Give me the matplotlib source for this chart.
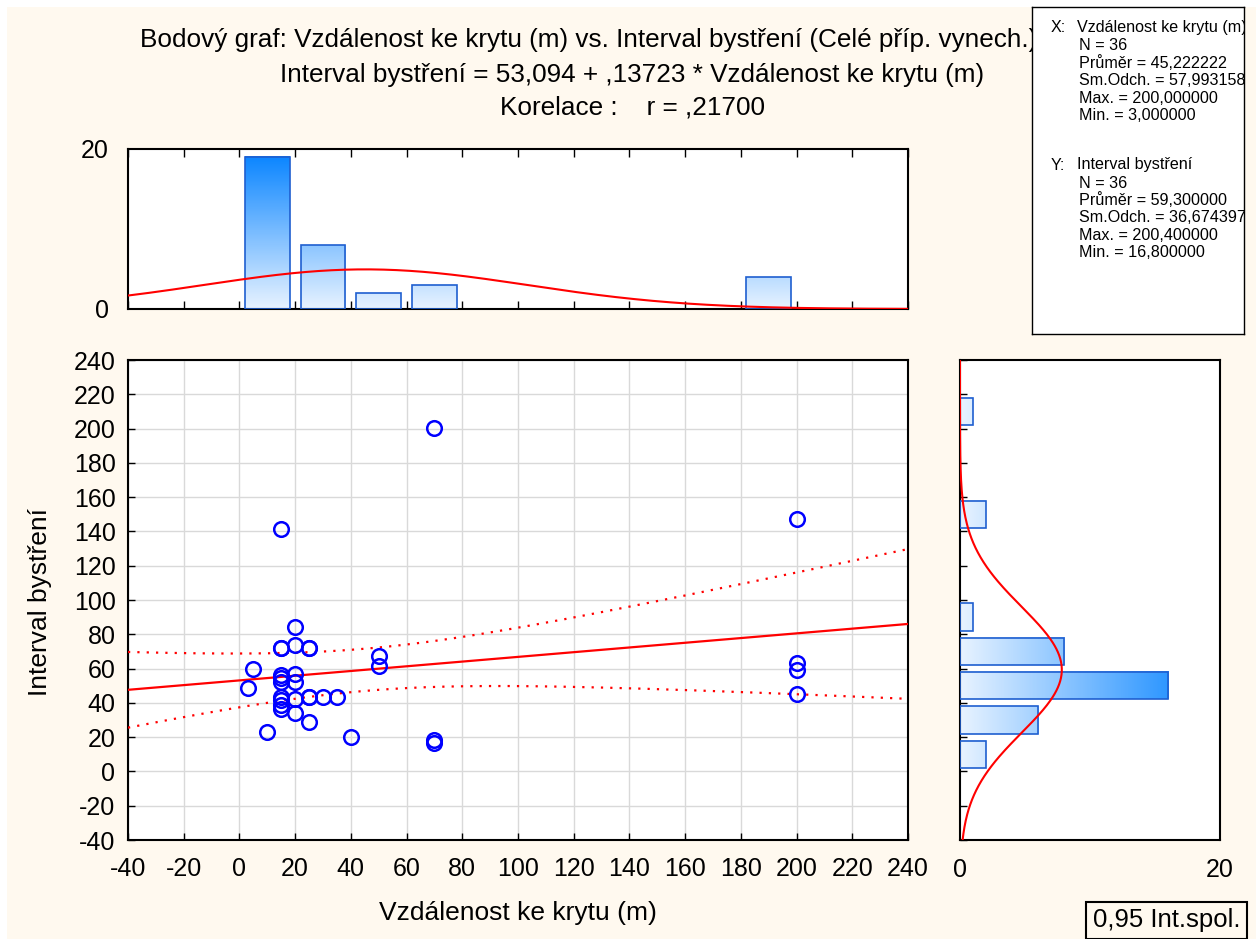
import numpy as np
import matplotlib
matplotlib.use("Agg")
import matplotlib.pyplot as plt
from matplotlib.colors import LinearSegmentedColormap
from matplotlib.patches import Rectangle

plt.rcParams['font.family'] = ['Liberation Sans', 'DejaVu Sans']
plt.rcParams['axes.unicode_minus'] = False

# ---- observations ---------------------------------------------------------
distance = [20, 15, 15, 20, 25, 25, 50, 50, 5, 15, 15, 15, 20, 20, 3,
            15, 15, 15, 15, 20, 25, 25, 30, 35, 20, 25, 10, 40, 15,
            70, 200, 200, 200, 200, 70, 70]
interval = [84.4, 72.2, 72.2, 73.8, 71.8, 71.8, 67.3, 61.7, 60.0, 56.3, 54.3, 52.3,
            56.8, 52.3, 48.5, 43.6, 41.7, 38.8, 36.2, 42.3, 43.6, 43.6, 43.2, 43.6,
            33.9, 28.7, 23.2, 20.3, 141.4, 200.4, 147.3, 63.1, 59.2, 45.0, 18.3, 16.8]

x_label = "Vzdálenost ke krytu (m)"
y_label = "Interval bystření"
plot_title = "Bodový graf: Vzdálenost ke krytu (m) vs. Interval bystření (Celé příp. vynech.)"

# regression / descriptive statistics as reported
intercept = 53.094
slope = 0.13723
r_value = 0.21700
n_obs = 36
x_stats = {"mean": 45.222222, "sd": 57.993158, "max": 200.0, "min": 3.0}
y_stats = {"mean": 59.3, "sd": 36.674397, "max": 200.4, "min": 16.8}
ci_label = "0,95 Int.spol."
t_crit = 2.0322          # Student t (0.975; 34 df)

bin_width = 20
axis_ticks = np.arange(-40, 241, 20)
hist_ticks = [0, 20]

# ---- styling --------------------------------------------------------------
BG = "#fff9ef"
RED = "#ff0000"
BLUE = "#0000ff"
BAR_EDGE = "#1f5fd0"
bar_cmap = LinearSegmentedColormap.from_list("bar", ["#e8f3ff", "#0080ff"])


def cz(v, fmt):
    s = format(v, fmt).replace(".", ",")
    if s.startswith("0,"):
        s = s[1:]
    return s


def normpdf(v, mu, sd):
    return np.exp(-0.5 * ((v - mu) / sd) ** 2) / (sd * np.sqrt(2 * np.pi))


def bin_counts(values):
    v = np.asarray(values, dtype=float)
    idx = (np.ceil(v / bin_width) - 1).astype(int)
    uniq = np.unique(idx)
    counts = np.array([np.sum(idx == i) for i in uniq])
    return uniq * bin_width, counts


W, H = 1256, 939
fig = plt.figure(figsize=(W / 100, H / 100), dpi=100, facecolor=BG)


def px_axes(left, top, right, bottom):
    return fig.add_axes([left / W, 1 - bottom / H, (right - left) / W, (bottom - top) / H])


# thin white margin on the top and left edge
fig.patches.append(Rectangle((0, 1 - 7 / H), 1, 7 / H, transform=fig.transFigure,
                             facecolor="white", edgecolor="none", zorder=-1))
fig.patches.append(Rectangle((0, 0), 7 / W, 1, transform=fig.transFigure,
                             facecolor="white", edgecolor="none", zorder=-1))

tick_fs = 18
label_fs = 19

# ---- main scatter ---------------------------------------------------------
ax = px_axes(128, 360, 908, 840)
ax.set_xlim(-40, 240)
ax.set_ylim(-40, 240)
ax.set_xticks(axis_ticks)
ax.set_yticks(axis_ticks)
ax.grid(True, color="#d9d9d9", lw=1.0)
ax.set_axisbelow(True)
ax.tick_params(direction="in", length=5, labelsize=tick_fs, width=1)
ax.tick_params(axis="y", pad=9)
ax.tick_params(axis="x", pad=12)
for s in ax.spines.values():
    s.set_linewidth(1.5)

xs = np.linspace(-40, 240, 300)
yhat = intercept + slope * xs
s_res = y_stats["sd"] * np.sqrt((1 - r_value ** 2) * (n_obs - 1) / (n_obs - 2))
sxx = (n_obs - 1) * x_stats["sd"] ** 2
half = t_crit * s_res * np.sqrt(1 / n_obs + (xs - x_stats["mean"]) ** 2 / sxx)
ax.plot(xs, yhat, color=RED, lw=1.6, zorder=3)
ax.plot(xs, yhat + half, color=RED, lw=1.6, ls=(0, (1, 3.2)), zorder=3)
ax.plot(xs, yhat - half, color=RED, lw=1.6, ls=(0, (1, 3.2)), zorder=3)
ax.plot(distance, interval, ls="none", marker="o", ms=10.5, mfc="none", mec=BLUE,
        mew=1.8, zorder=4)

fig.text(518 / W, 1 - 913 / H, x_label, ha="center", va="center", fontsize=label_fs)
fig.text(40 / W, 1 - 602 / H, y_label, ha="center", va="center", rotation=90,
         fontsize=label_fs)


def gradient_bar(axh, x0, x1, y0, y1, vertical):
    if vertical:
        data = np.linspace(y0, y1, 256).reshape(-1, 1)
    else:
        data = np.linspace(x0, x1, 256).reshape(1, -1)
    axh.imshow(data, extent=(x0, x1, y0, y1), origin="lower", aspect="auto",
               cmap=bar_cmap, vmin=0, vmax=20, interpolation="bilinear", zorder=2)
    axh.add_patch(Rectangle((x0, y0), x1 - x0, y1 - y0, facecolor="none",
                            edgecolor=BAR_EDGE, lw=1.2, zorder=3))


# ---- top histogram (distance) ---------------------------------------------
axt = px_axes(128, 149, 908, 309)
lows, counts = bin_counts(distance)
for lo, c in zip(lows, counts):
    gradient_bar(axt, lo + 2, lo + bin_width - 2, 0, c, vertical=True)
axt.plot(xs, n_obs * bin_width * normpdf(xs, x_stats["mean"], x_stats["sd"]),
         color=RED, lw=1.5, zorder=4)
axt.set_xlim(-40, 240)
axt.set_ylim(0, 20)
axt.set_xticks(axis_ticks)
axt.set_yticks(hist_ticks)
axt.tick_params(axis="x", direction="in", length=6, top=True, labelbottom=False, width=1)
axt.tick_params(axis="y", direction="in", length=0, labelsize=tick_fs, pad=14)
axt.set_facecolor("white")
for s in axt.spines.values():
    s.set_linewidth(1.5)

# ---- right histogram (interval) -------------------------------------------
axr = px_axes(960, 360, 1220, 840)
lows, counts = bin_counts(interval)
for lo, c in zip(lows, counts):
    gradient_bar(axr, 0, c, lo + 2, lo + bin_width - 2, vertical=False)
ys = np.linspace(-40, 240, 300)
axr.plot(n_obs * bin_width * normpdf(ys, y_stats["mean"], y_stats["sd"]), ys,
         color=RED, lw=1.5, zorder=4)
axr.set_xlim(0, 20)
axr.set_ylim(-40, 240)
axr.set_yticks(axis_ticks)
axr.set_xticks(hist_ticks)
axr.tick_params(axis="y", direction="in", length=5, labelleft=False, width=1)
axr.tick_params(axis="x", direction="in", length=0, labelsize=tick_fs, pad=13)
axr.set_facecolor("white")
for s in axr.spines.values():
    s.set_linewidth(1.5)

# ---- titles ---------------------------------------------------------------
title_fs = 18.8
fig.text(140 / W, 1 - 40 / H, plot_title, ha="left", va="center", fontsize=title_fs)
fig.text(632 / W, 1 - 75 / H,
         f"{y_label} = {cz(intercept, '.3f')} + {cz(slope, '.5f')} * {x_label}",
         ha="center", va="center", fontsize=title_fs)
fig.text(632 / W, 1 - 108 / H, f"Korelace :    r = {cz(r_value, '.5f')}",
         ha="center", va="center", fontsize=title_fs)

# ---- statistics box -------------------------------------------------------
axs = px_axes(1032, 7, 1244, 334)
axs.set_xticks([])
axs.set_yticks([])
axs.set_facecolor("white")
axs.set_zorder(5)
for s in axs.spines.values():
    s.set_linewidth(1.0)


def stat_block(head, name, st, top_px):
    bw, bh = 1244 - 1032, 334 - 7

    def put(xp, yp, txt):
        axs.text((xp - 1032) / bw, 1 - (yp - 7) / bh, txt, transform=axs.transAxes,
                 ha="left", va="center", fontsize=11.6, clip_on=True)
    put(1051, top_px, head)
    put(1077, top_px, name)
    lines = [f"N = {n_obs}",
             f"Průměr = {cz(st['mean'], '.6f')}",
             f"Sm.Odch. = {cz(st['sd'], '.6f')}",
             f"Max. = {cz(st['max'], '.6f')}",
             f"Min. = {cz(st['min'], '.6f')}"]
    for i, ln in enumerate(lines):
        put(1079, top_px + 18 + 17.4 * i, ln)


stat_block("X:", x_label, x_stats, 28)
stat_block("Y:", y_label, y_stats, 165)

# ---- confidence legend box ------------------------------------------------
fig.patches.append(Rectangle((1086 / W, 0), (1247 - 1086) / W, 1 - 902 / H,
                             transform=fig.transFigure, facecolor=BG,
                             edgecolor="black", lw=1.5, zorder=5))
fig.text(1167 / W, 1 - 920 / H, ci_label, ha="center", va="center", fontsize=18.5,
         zorder=6)

fig.savefig("out.png", dpi=100, facecolor=BG)
